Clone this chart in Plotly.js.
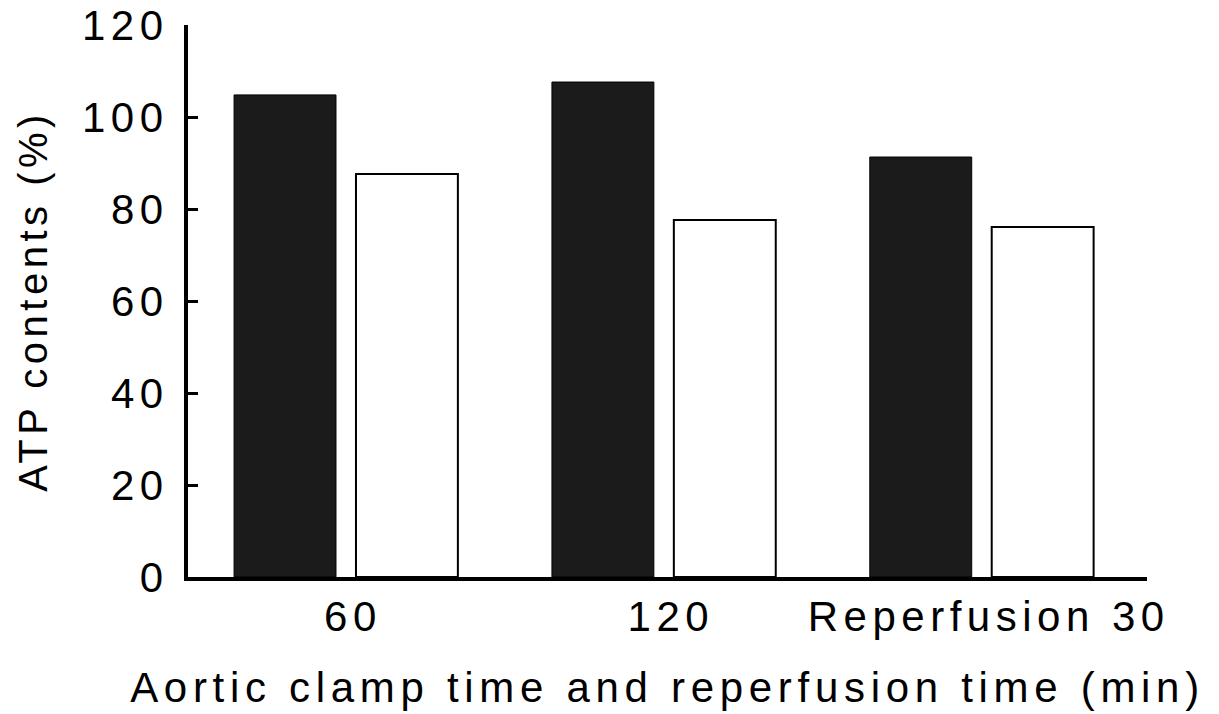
<!DOCTYPE html>
<html>
<head>
<meta charset="utf-8">
<script src="https://cdn.plot.ly/plotly-3.0.1.min.js"></script>
<style>
  html, body { margin: 0; padding: 0; background: #fff; }
  #chart { width: 1219px; height: 714px; }
  #chart .ytick text, #chart .xtick text { letter-spacing: 5.5px; }
  #chart .xtitle { letter-spacing: 5.7px; }
  #chart .ytitle { letter-spacing: 4.5px; }
</style>
</head>
<body>
<div id="chart"></div>
<script>
const categories = ['60', '120', 'Reperfusion 30'];
const blackValues = [104.8, 107.6, 91.3];
const whiteValues = [87.6, 77.6, 76.1];
const yTickValues = [0, 20, 40, 60, 80, 100, 120];

const fontFamily = '"Liberation Sans", Arial, Helvetica, sans-serif';

const traces = [
  {
    type: 'bar',
    x: categories,
    y: blackValues,
    marker: { color: '#1b1b1b', line: { color: '#000', width: 1 } },
    hoverinfo: 'x+y',
    showlegend: false
  },
  {
    type: 'bar',
    x: categories,
    y: whiteValues,
    marker: { color: '#ffffff', line: { color: '#000', width: 2 } },
    hoverinfo: 'x+y',
    showlegend: false
  }
];

const layout = {
  width: 1219,
  height: 714,
  margin: { l: 188, r: 72, t: 25, b: 137 },
  paper_bgcolor: '#fff',
  plot_bgcolor: '#fff',
  barmode: 'group',
  bargap: 0.233,
  bargroupgap: 0.164,
  font: { family: fontFamily, color: '#000', size: 42 },
  xaxis: {
    type: 'category',
    range: [-0.497, 2.52],
    showline: true,
    linecolor: '#000',
    linewidth: 4,
    ticks: '',
    showgrid: false,
    zeroline: false,
    tickfont: { family: fontFamily, size: 42, color: '#000' },
    ticklabelstandoff: 0,
    ticklabelshift: 7,
    title: {
      text: 'Aortic clamp time and reperfusion time (min)',
      font: { family: fontFamily, size: 42, color: '#000' },
      standoff: 34
    }
  },
  yaxis: {
    range: [0, 120],
    tickvals: yTickValues,
    ticktext: yTickValues.map(String),
    showline: true,
    linecolor: '#000',
    linewidth: 4,
    ticks: 'inside',
    ticklen: 10,
    tickwidth: 3,
    tickcolor: '#000',
    showgrid: false,
    zeroline: false,
    tickfont: { family: fontFamily, size: 42, color: '#000' },
    ticklabelstandoff: 7,
    title: {
      text: 'ATP contents (%)',
      font: { family: fontFamily, size: 40, color: '#000' },
      standoff: 40
    }
  }
};

Plotly.newPlot('chart', traces, layout, { displayModeBar: false, staticPlot: true });
</script>
</body>
</html>
